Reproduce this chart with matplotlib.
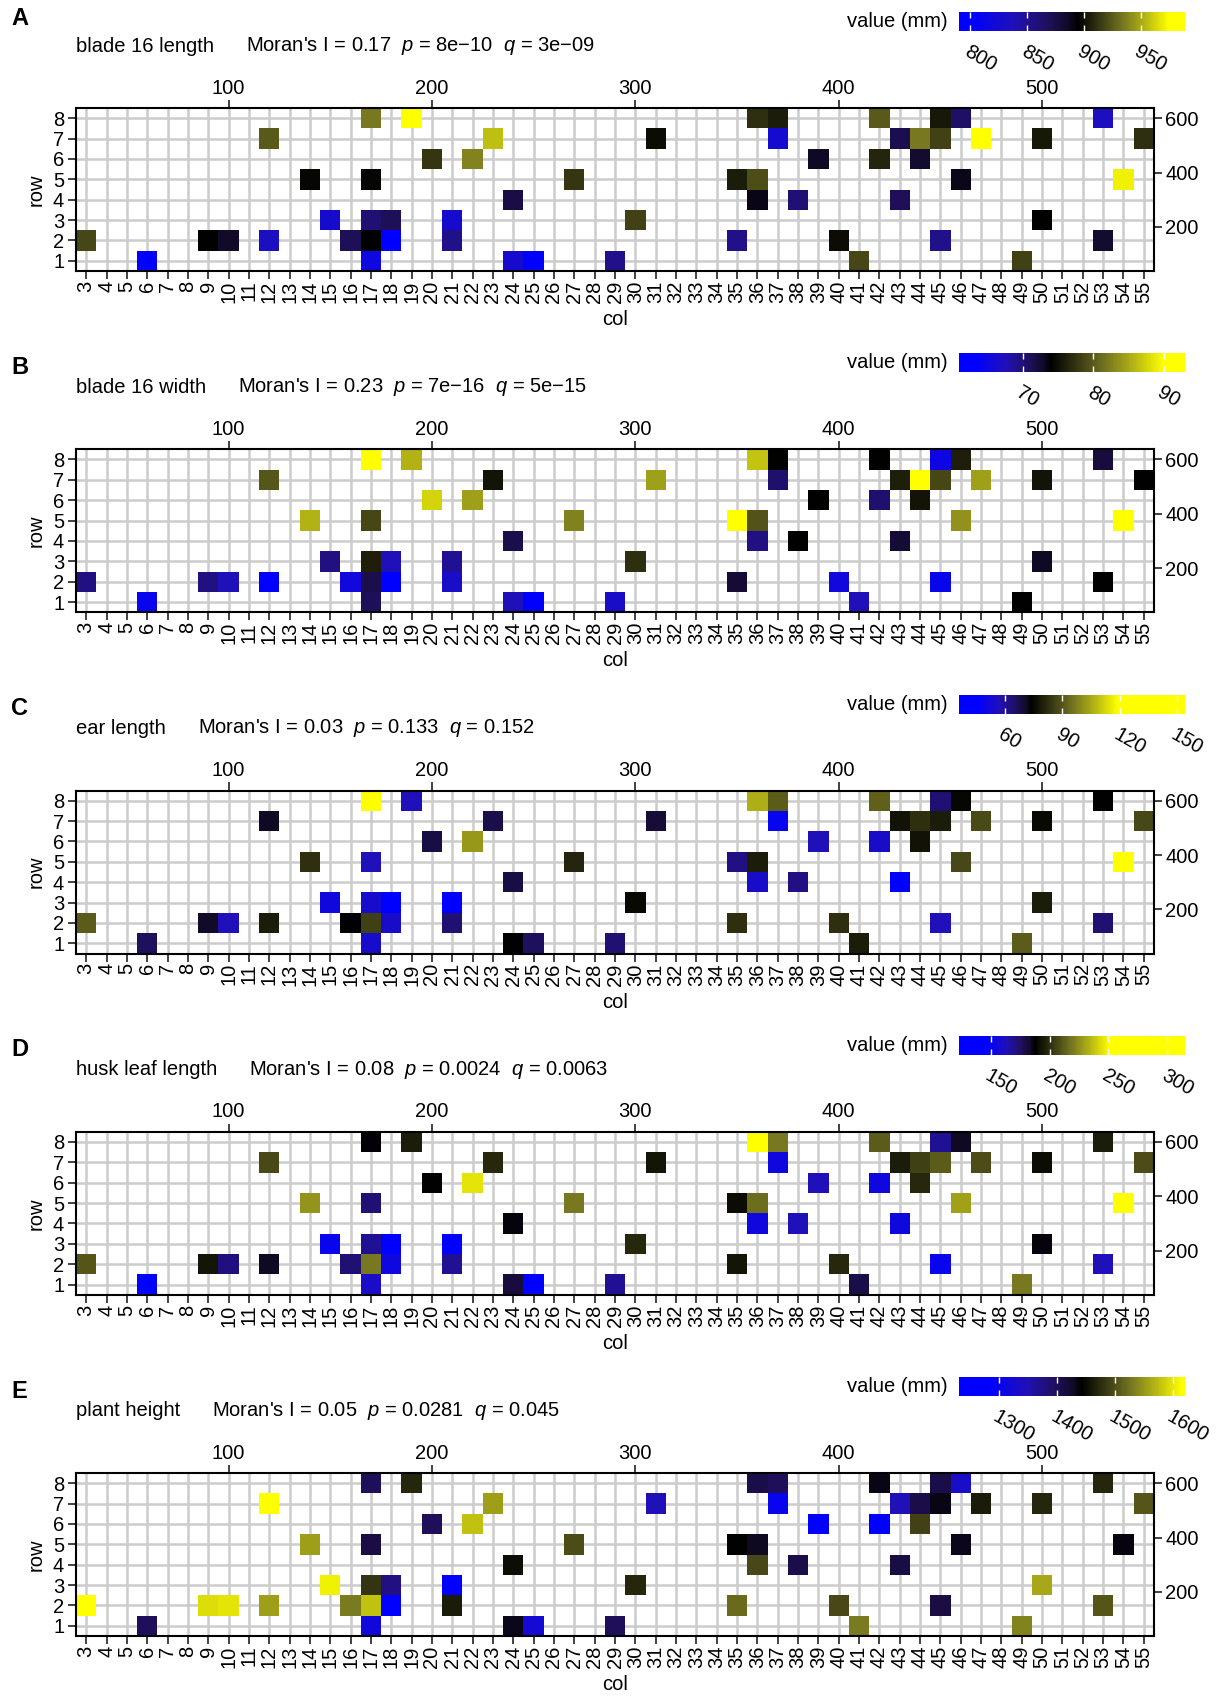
import numpy as np
import matplotlib
matplotlib.use("Agg")
import matplotlib.pyplot as plt
from matplotlib.colors import LinearSegmentedColormap, Normalize
from matplotlib.cm import ScalarMappable

plt.rcParams["font.family"] = ["Liberation Sans", "DejaVu Sans"]
plt.rcParams["mathtext.fontset"] = "custom"
plt.rcParams["mathtext.rm"] = "Liberation Sans"
plt.rcParams["mathtext.it"] = "Liberation Sans:italic"

# plot positions in the field (same plots in every panel)
cols = [17, 19, 36, 37, 42, 45, 46, 53,
        12, 23, 31, 37, 43, 44, 45, 47, 50, 55,
        20, 22, 39, 42, 44,
        14, 17, 27, 35, 36, 46, 54,
        24, 36, 38, 43,
        15, 17, 18, 21, 30, 50,
        3, 9, 10, 12, 16, 17, 18, 21, 35, 40, 45, 53,
        6, 17, 24, 25, 29, 41, 49]
rows = [8] * 8 + [7] * 10 + [6] * 5 + [5] * 7 + [4] * 4 + [3] * 6 + [2] * 12 + [1] * 7

blade_length = [935, 980, 911, 905, 925, 903, 865, 835,
                925, 957, 899, 825, 873, 935, 917, 989, 903, 911,
                913, 938, 887, 908, 883,
                897, 897, 913, 905, 921, 889, 971,
                875, 890, 860, 870,
                827, 860, 870, 827, 917, 895,
                919, 895, 885, 833, 870, 895, 790, 853, 853, 899, 853, 883,
                795, 817, 827, 797, 853, 919, 917]
blade_width = [91, 85.5, 86.5, 74, 74, 65, 76, 72,
               79.8, 75.3, 84.4, 70.3, 76, 93, 78.8, 84.4, 75.3, 74,
               87.6, 84.4, 74, 70.3, 75.3,
               85.5, 78.8, 82.6, 90.5, 79.6, 83.6, 91,
               71.6, 69.5, 74, 72.4,
               69.5, 76, 67.6, 68.9, 77.2, 73.1,
               69.5, 69.5, 67.6, 63, 65.4, 71.6, 61, 66.7, 72.4, 65.4, 64.6, 74,
               64.4, 71, 67.6, 63, 66.7, 67.6, 74]
ear_length = [125, 57, 106, 91, 92, 64, 75, 73.6,
              71.4, 67.5, 69.5, 48.8, 77.2, 82.7, 79, 88, 75.4, 87.2,
              68, 101.7, 57, 54.8, 77.2,
              82.7, 57, 80.9, 62, 79, 87.2, 154,
              68, 54.8, 62, 36,
              51.5, 54.3, 44, 44, 75.4, 79,
              91, 70.8, 57, 79, 73.6, 85.9, 54.8, 64, 82.7, 82.7, 57, 64,
              65.9, 54.8, 73.6, 65.9, 64, 79, 91]
husk_length = [187, 195, 260, 219, 212, 168, 184, 195,
               207, 198, 193, 155, 195, 205, 212, 208, 191, 208,
               188, 245, 163, 155, 198,
               226, 173, 219, 191, 216, 229, 315,
               186, 155, 163, 155,
               151, 168, 140, 138, 198, 186,
               210, 193, 171, 184, 173, 219, 155, 168, 193, 198, 151, 163,
               123, 160, 180, 145, 168, 179, 219]
plant_height = [1398, 1471, 1408, 1398, 1435, 1408, 1334, 1471,
                1618, 1555, 1347, 1299, 1347, 1408, 1435, 1464, 1471, 1504,
                1398, 1578, 1270, 1265, 1490,
                1555, 1411, 1498, 1443, 1430, 1433, 1437,
                1452, 1495, 1408, 1411,
                1607, 1481, 1376, 1260, 1471, 1561,
                1621, 1595, 1599, 1555, 1530, 1578, 1231, 1464, 1519, 1495, 1411, 1504,
                1398, 1315, 1433, 1323, 1398, 1530, 1536]

letters = ["A", "B", "C", "D", "E"]
names = ["blade 16 length", "blade 16 width", "ear length", "husk leaf length", "plant height"]
stats = [("0.17", "8e\u221210", "3e\u221209"),
         ("0.23", "7e\u221216", "5e\u221215"),
         ("0.03", "0.133", "0.152"),
         ("0.08", "0.0024", "0.0063"),
         ("0.05", "0.0281", "0.045")]
traits = [blade_length, blade_width, ear_length, husk_length, plant_height]
# colour anchors: end of pure blue, black, start of pure yellow
anchors = [(800, 895, 975), (63.3, 74, 90), (46, 73.6, 119), (147, 187.6, 251), (1283, 1443, 1616)]
cbar_ticks = [[800, 850, 900, 950], [70, 80, 90], [60, 90, 120, 150],
              [150, 200, 250, 300], [1300, 1400, 1500, 1600]]

t_nodes = [-1, -0.6, -0.3, -0.1, 0, 0.25, 0.5, 0.75, 1]
c_nodes = ["#0000FF", "#2010B8", "#201060", "#120A28", "#000000",
           "#3A3A14", "#787820", "#B8B814", "#FFFF00"]


def make_cmap(vals, lo, mid, hi):
    vmin, vmax = min(vals), max(vals)
    pts = [(0.0, c_nodes[0])]
    for t, c in zip(t_nodes, c_nodes):
        v = mid + t * (mid - lo) if t < 0 else mid + t * (hi - mid)
        pts.append((float(np.clip((v - vmin) / (vmax - vmin), 0, 1)), c))
    pts.append((1.0, c_nodes[-1]))
    return LinearSegmentedColormap.from_list("byb", pts), Normalize(vmin, vmax)


W, H = 1218, 1696
fig = plt.figure(figsize=(W / 100, H / 100), dpi=100)
renderer = fig.canvas.get_renderer()
fs = 14.5
tick_kw = dict(labelsize=fs, length=5.5, width=1.3, color="#333333")

for i in range(5):
    top = 108 + 341.25 * i
    ax = fig.add_axes([76 / W, 1 - (top + 163) / H, 1078 / W, 163 / H])
    cmap, norm = make_cmap(traits[i], *anchors[i])

    grid = np.full((8, 53), np.nan)
    for c, r, v in zip(cols, rows, traits[i]):
        grid[r - 1, c - 3] = v
    ax.pcolormesh(np.arange(2.5, 56.5), np.arange(0.5, 9.5),
                  np.ma.masked_invalid(grid), cmap=cmap, norm=norm, zorder=2)

    ax.set_xlim(2.5, 55.5)
    ax.set_ylim(0.5, 8.5)
    ax.set_xticks(range(3, 56))
    ax.set_yticks(range(1, 9))
    ax.tick_params(axis="x", labelrotation=90, pad=1.5, **tick_kw)
    ax.tick_params(axis="y", pad=3, **tick_kw)
    ax.set_axisbelow(True)
    ax.grid(True, color="#CCCCCC", lw=1.8)
    for s in ax.spines.values():
        s.set_linewidth(1.5)
    ax.set_xlabel("col", fontsize=fs, labelpad=5)
    ax.set_ylabel("row", fontsize=fs, labelpad=5)

    secx = ax.secondary_xaxis("top", functions=(lambda c: c * 10, lambda m: m / 10))
    secx.set_xticks([100, 200, 300, 400, 500])
    secx.tick_params(pad=2, **tick_kw)
    secy = ax.secondary_yaxis("right", functions=(lambda r: r * 75, lambda m: m / 75))
    secy.set_yticks([200, 400, 600])
    secy.tick_params(pad=2.5, **tick_kw)
    for sec in (secx, secy):
        for s in sec.spines.values():
            s.set_visible(False)

    # panel letter and title
    ly = 18.5 if i == 0 else top - 82
    fig.text(11 / W, 1 - ly / H, letters[i], fontsize=17, fontweight="bold",
             ha="left", va="center")
    ty = 1 - (top - 62) / H
    t1 = fig.text(76 / W, ty, names[i], fontsize=fs, ha="left", va="center")
    x1 = t1.get_window_extent(renderer).x1
    mi, p, q = stats[i]
    fig.text((x1 + 32) / W, ty,
             "Moran's I = %s  $p$ = %s  $q$ = %s" % (mi, p, q),
             fontsize=fs, ha="left", va="center")

    # colour bar
    cax = fig.add_axes([959 / W, 1 - (top - 77) / H, 226 / W, 19 / H])
    cb = fig.colorbar(ScalarMappable(norm=norm, cmap=cmap), cax=cax,
                      orientation="horizontal")
    cb.outline.set_visible(False)
    cb.set_ticks(cbar_ticks[i])
    cax.tick_params(direction="in", color="white", length=4, width=1,
                    bottom=True, top=True, labelsize=fs, pad=8)
    for lbl in cax.get_xticklabels():
        lbl.set_rotation(-30)
        lbl.set_ha("left")
        lbl.set_va("top")
        lbl.set_rotation_mode("anchor")
    fig.text(948 / W, 1 - (top - 86.5) / H, "value (mm)", fontsize=fs,
             ha="right", va="center")

fig.savefig("out.png", dpi=100)
